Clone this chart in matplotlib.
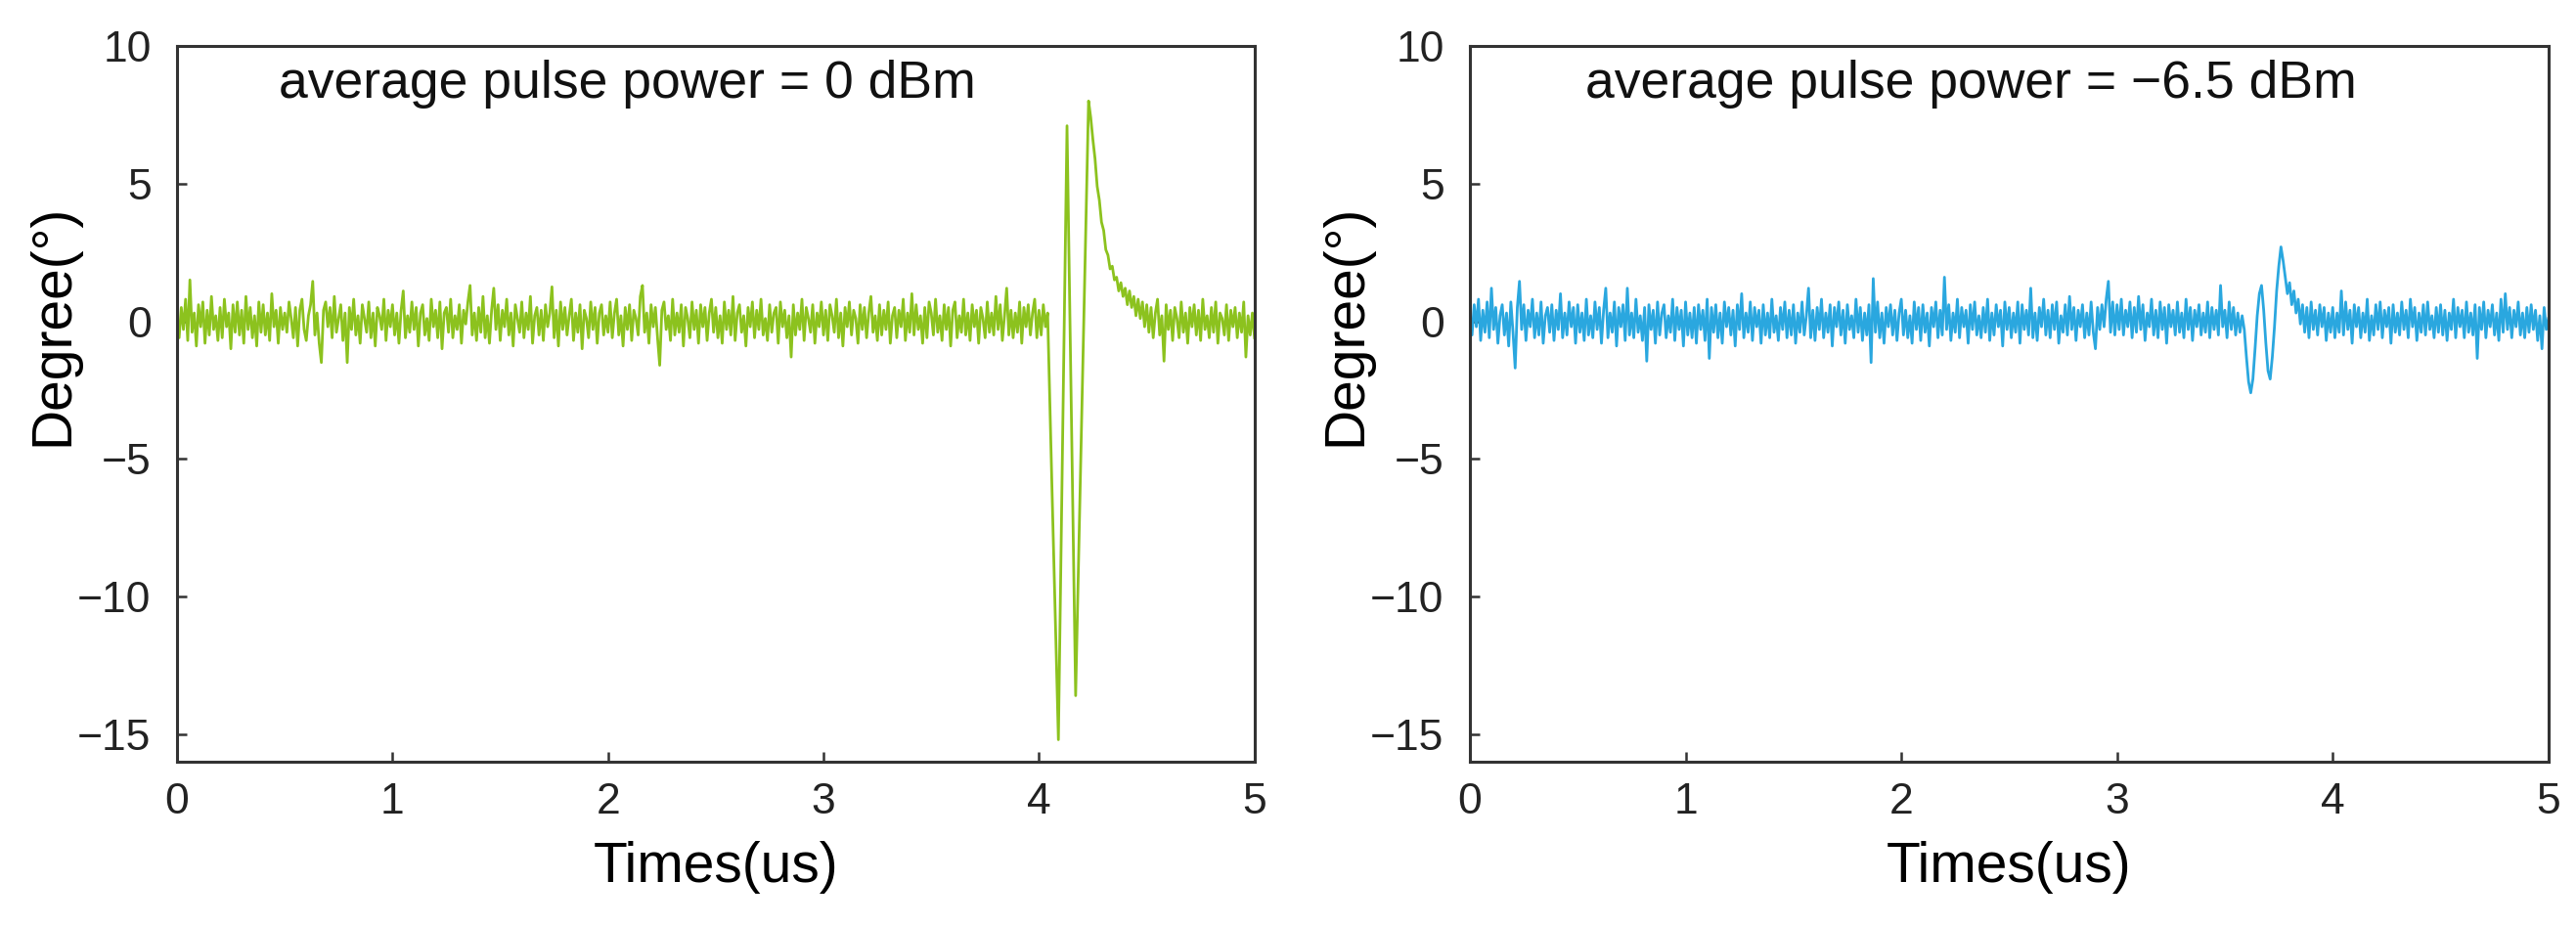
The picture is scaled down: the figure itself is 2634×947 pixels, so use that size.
import numpy as np
import matplotlib
matplotlib.use("Agg")
import matplotlib.pyplot as plt

plt.rcParams["font.family"] = ["Liberation Sans", "DejaVu Sans"]

# phase trace at 0 dBm, one value every 0.01 us from 0 to 5 us
phase_0dbm = [
    0.2, -0.6, 0.5, -0.3, 0.8, -0.7, 1.5, -0.4, 0.3, -0.9,
    0.6, -0.2, 0.7, -0.8, 0.4, -0.5, 0.9, -0.3, 0.2, -0.7,
    0.5, -0.6, 0.8, -0.2, 0.3, -1.0, 0.6, -0.4, 0.7, -0.5,
    0.4, -0.8, 0.9, -0.3, 0.5, -0.6, 0.2, -0.9, 0.7, -0.4,
    0.6, -0.5, 0.3, -0.7, 1.0, -0.2, 0.4, -0.8, 0.5, -0.3,
    0.3, -0.4, 0.7, 0.1, -0.6, 0.5, -0.9, 0.4, 0.8, -0.3,
    -0.7, 0.2, 0.6, 1.45, -0.5, 0.3, -0.8, -1.5, 0.4, 0.7,
    -0.2, 0.5, -0.6, 0.9, -0.4, 0.1, 0.6, -0.7, 0.3, -1.5,
    0.5, -0.3, 0.8, -0.5, 0.2, -0.8, 0.6, 0.1, -0.4, 0.7,
    -0.6, 0.3, -0.9, 0.5, 0.2, -0.3, 0.8, -0.7, 0.4, -0.2,
    0.6, -0.5, 0.3, -0.8, 0.4, 1.1, -0.6, 0.2, -0.4, 0.7,
    -0.3, 0.5, -0.9, 0.3, 0.6, -0.5, 0.1, -0.7, 0.8, -0.2,
    0.4, -0.6, 0.7, -1.0, 0.3, 0.5, -0.4, 0.8, -0.6, 0.2,
    -0.3, 0.6, -0.8, 0.4, -0.1, 0.7, 1.3, -0.5, 0.3, -0.7,
    0.5, -0.4, 0.9, -0.6, 0.2, -0.8, 0.4, 1.2, -0.3, 0.6,
    -0.7, 0.4, -0.2, 0.8, -0.5, 0.3, -0.9, 0.6, 0.1, -0.4,
    0.7, -0.6, 0.3, -0.3, 0.9, -0.8, 0.2, 0.5, -0.5, 0.4,
    -0.7, 0.6, -0.2, 0.3, 1.25, -0.6, 0.4, -0.9, 0.7, -0.3,
    0.5, -0.5, 0.2, 0.8, -0.7, 0.3, -0.4, 0.6, -1.0, 0.4,
    0.1, -0.6, 0.7, -0.3, 0.5, -0.8, 0.3, 0.6, -0.5, 0.2,
    -0.4, 0.7, -0.6, 0.3, 0.8, -0.5, 0.2, -0.9, 0.5, -0.3,
    0.6, -0.7, 0.4, 0.1, -0.5, 0.9, 1.3, -0.4, 0.3, -0.8,
    0.6, -0.2, 0.5, -0.6, -1.6, 0.4, 0.7, -0.3, 0.2, -0.7,
    0.8, -0.5, 0.3, -0.4, 0.6, -0.9, 0.5, 0.1, -0.6, 0.7,
    -0.3, 0.4, -0.8, 0.6, -0.2, 0.5, -0.7, 0.3, 0.8, -0.4,
    0.5, -0.6, 0.2, -0.8, 0.7, -0.3, 0.4, -0.5, 0.9, -0.7,
    0.3, 0.6, -0.4, 0.2, -0.9, 0.5, -0.2, 0.7, -0.6, 0.4,
    -0.3, 0.8, -0.5, 0.1, -0.7, 0.6, -0.4, 0.3, 0.5, -0.8,
    0.7, -0.2, 0.4, -0.6, 0.2, -1.3, 0.6, -0.5, 0.3, -0.3,
    0.8, -0.7, 0.5, 0.1, -0.4, 0.6, -0.8, 0.3, -0.2, 0.7,
    -0.5, 0.4, -0.7, 0.6, 0.2, -0.4, 0.8, -0.6, 0.3, -0.9,
    0.5, -0.2, 0.7, -0.5, 0.4, 0.1, -0.8, 0.6, -0.3, 0.5,
    -0.6, 0.3, 0.9, -0.4, 0.2, -0.7, 0.6, -0.5, 0.4, -0.3,
    0.7, -0.8, 0.2, 0.5, -0.6, 0.4, -0.2, 0.8, -0.7, 0.3,
    -0.4, 1.0, -0.5, 0.6, -0.3, 0.2, -0.8, 0.5, -0.6, 0.7,
    0.3, -0.5, 0.8, -0.4, 0.2, -0.7, 0.6, -0.3, 0.5, -0.9,
    0.4, 0.7, -0.6, 0.2, -0.4, 0.8, -0.5, 0.3, -0.7, 0.6,
    -0.2, 0.4, -0.8, 0.5, 0.1, -0.6, 0.7, -0.4, 0.3, -0.5,
    0.9, -0.3, 0.6, -0.7, 0.2, 1.2, -0.5, 0.4, -0.6, 0.3,
    -0.4, 0.7, -0.8, 0.5, -0.2, 0.6, -0.5, 0.3, 0.8, -0.6,
    0.4, -0.5, 0.6, -0.2, 0.3, -2.9, -6.0, -9.0, -12.1, -15.2,
    -9.6, -4.0, 1.5, 7.1, 1.9, -3.3, -8.4, -13.6, -10.0, -6.4,
    -2.8, 0.8, 4.4, 8.0, 7.4, 6.6, 5.9, 4.9, 4.4, 3.6,
    3.3, 2.6, 2.4, 1.9, 2.0, 1.5, 1.6, 1.1, 1.4, 0.9,
    1.2, 0.6, 1.1, 0.5, 0.9, 0.2, 0.8, 0.1, 0.7, -0.2,
    0.6, -0.4, 0.5, -0.6, 0.3, 0.8, -0.5, 0.2, -1.45, 0.6,
    -0.3, 0.4, -0.7, 0.5, 0.1, -0.6, 0.7, -0.4, 0.3, -0.8,
    0.5, -0.2, 0.6, -0.5, 0.4, -0.7, 0.8, -0.3, 0.2, -0.6,
    0.5, -0.4, 0.7, -0.8, 0.3, 0.1, -0.5, 0.6, -0.7, 0.4,
    -0.2, 0.5, -0.6, 0.3, -0.4, 0.7, -1.3, 0.2, -0.5, 0.3,
    -0.6,
]

# phase trace at -6.5 dBm, same time grid
phase_m6dbm = [
    0.3, -0.5, 0.6, -0.2, 0.8, -0.7, 0.4, -0.4, 0.7, -0.6,
    1.2, -0.3, 0.5, -0.8, 0.2, 0.6, -0.5, 0.3, -0.9, 0.7,
    -0.4, -1.7, 0.5, 1.45, -0.3, 0.6, -0.7, 0.4, -0.2, 0.8,
    -0.6, 0.3, -0.5, 0.7, -0.8, 0.2, 0.5, -0.4, 0.6, -0.7,
    0.4, -0.3, 1.0, -0.6, 0.3, -0.5, 0.7, -0.2, 0.5, -0.8,
    0.6, -0.4, 0.3, -0.7, 0.8, -0.5, 0.2, -0.6, 0.7, -0.3,
    0.5, -0.8, 0.4, 1.2, -0.6, 0.3, -0.4, 0.7, -0.9, 0.5,
    -0.2, 0.6, -0.7, 1.2, -0.5, 0.3, -0.6, 0.8, -0.4, 0.2,
    -0.7, 0.5, -1.45, 0.6, -0.3, 0.4, -0.8, 0.7, -0.5, 0.3,
    0.6, -0.6, 0.2, -0.4, 0.8, -0.7, 0.5, -0.3, 0.4, -0.9,
    0.7, -0.5, 0.3, -0.6, 0.5, -0.8, 0.6, -0.3, 0.4, -0.7,
    0.8, -1.35, 0.5, -0.4, 0.6, -0.6, 0.3, -0.8, 0.7, -0.2,
    0.5, -0.5, 0.4, -0.9, 0.6, -0.3, 1.0, -0.6, 0.3, -0.4,
    0.7, -0.7, 0.5, -0.2, 0.4, -0.8, 0.6, -0.5, 0.3, -0.6,
    0.8, -0.4, 0.2, -0.7, 0.5, -0.3, 0.7, -0.6, 0.4, -0.5,
    0.6, -0.8, 0.3, -0.4, 0.7, -0.5, 0.2, 1.2, -0.6, 0.4,
    -0.7, 0.5, -0.3, 0.8, -0.6, 0.3, -0.4, 0.6, -0.9, 0.5,
    -0.2, 0.7, -0.5, 0.4, -0.8, 0.6, -0.3, 0.2, -0.6, 0.8,
    -0.4, 0.5, -0.7, 0.3, -0.5, 0.6, -1.5, 1.55, -0.4, 0.7,
    -0.6, 0.3, -0.8, 0.5, -0.2, 0.6, -0.5, 0.4, -0.7, 0.3,
    0.8, -0.5, 0.4, -0.6, 0.2, -0.8, 0.7, -0.3, 0.5, -0.7,
    0.6, -0.4, 0.3, -0.9, 0.5, -0.2, 0.7, -0.6, 0.4, -0.5,
    1.6, -0.3, 0.6, -0.7, 0.3, -0.4, 0.8, -0.6, 0.5, -0.2,
    0.4, -0.8, 0.6, -0.3, 0.7, -0.5, 0.2, -0.6, 0.5, -0.4,
    0.8, -0.7, 0.3, -0.5, 0.6, -0.2, 0.4, -0.9, 0.7, -0.3,
    0.5, -0.6, 0.3, -0.4, 0.7, -0.8, 0.6, -0.3, 0.4, -0.5,
    1.2, -0.6, 0.3, -0.7, 0.5, -0.2, 0.8, -0.5, 0.4, -0.6,
    0.6, -0.3, 0.7, -0.8, 0.2, -0.4, 0.6, -0.5, 0.9, -0.3,
    0.5, -0.7, 0.4, -0.2, 0.6, -0.6, 0.3, -0.5, 0.7, -0.4,
    -1.0, 0.5, -0.3, 0.6, -0.2, 0.8, 1.45, -0.4, 0.7, -0.5,
    0.6, -0.3, 0.8, -0.5, 0.4, -0.2, 0.7, -0.6, 0.5, -0.4,
    0.9, -0.3, 0.6, -0.7, 0.3, -0.2, 0.8, -0.5, 0.4, -0.6,
    0.7, -0.3, 0.5, -0.8, 0.6, -0.2, 0.4, -0.5, 0.7, -0.4,
    0.3, -0.6, 0.8, -0.3, 0.5, -0.7, 0.4, -0.2, 0.6, -0.5,
    0.3, -0.4, 0.7, -0.6, 0.5, -0.3, 0.4, -0.5, 1.3, -0.2,
    0.4, -0.6, 0.7, -0.3, 0.5, -0.5, 0.3, -0.4, 0.2, -0.3,
    -1.3, -2.2, -2.6, -2.1, -1.0, 0.2, 1.0, 1.3, 0.4, -0.8,
    -1.8, -2.1, -1.3, -0.2, 1.1, 2.0, 2.7, 2.2, 1.6, 1.0,
    1.4, 0.6, 1.1, 0.3, 0.8, -0.1, 0.6, -0.4, 0.5, -0.6,
    0.7, -0.3, 0.4, -0.5, 0.6, -0.2, 0.5, -0.7, 0.3, -0.4,
    0.5, -0.6, 0.3, -0.4, 1.1, -0.5, 0.7, -0.3, 0.4, -0.8,
    0.6, -0.2, 0.5, -0.6, 0.3, -0.4, 0.8, -0.7, 0.2, -0.5,
    0.6, -0.3, 0.7, -0.6, 0.4, -0.2, 0.5, -0.8, 0.6, -0.4,
    0.3, -0.5, 0.7, -0.3, 0.4, -0.6, 0.8, -0.2, 0.5, -0.7,
    0.3, -0.4, 0.6, -0.5, 0.7, -0.3, 0.2, -0.6, 0.5, -0.4,
    0.6, -0.5, 0.4, -0.7, 0.3, -0.3, 0.8, -0.6, 0.5, -0.2,
    0.4, -0.6, 0.7, -0.4, 0.3, -0.5, 0.6, -1.35, 0.5, -0.3,
    0.7, -0.6, 0.4, -0.2, 0.6, -0.5, 0.3, -0.7, 0.8, -0.4,
    1.0, -0.3, 0.5, -0.6, 0.4, -0.2, 0.7, -0.5, 0.3, -0.6,
    0.5, -0.4, 0.6, -0.3, 0.4, -0.7, 0.2, -1.0, 0.5, -0.3,
    0.1,
]

time_us = np.linspace(0, 5, len(phase_0dbm))

panels = [
    (phase_0dbm, "#8cc21e", "average pulse power = 0 dBm", 0.47, [0.0687, 0.1774, 0.4183, 0.773]),
    (phase_m6dbm, "#2aa7df", "average pulse power = \u22126.5 dBm", 0.535, [0.5706, 0.1774, 0.4187, 0.773]),
]

fig = plt.figure(figsize=(26.34, 9.47), dpi=100)

for values, color, note, note_x, rect in panels:
    ax = fig.add_axes(rect)
    ax.plot(time_us, values, color=color, lw=2.0)
    ax.set_xlim(0, 5)
    ax.set_ylim(-16, 10)
    ax.set_xticks([0, 1, 2, 3, 4, 5])
    ax.set_yticks([-15, -10, -5, 0, 5, 10])
    ax.tick_params(direction="in", length=7, width=1.8, labelsize=32,
                   color="#333333", labelcolor="#222222")
    ax.tick_params(axis="x", pad=15)
    ax.tick_params(axis="y", pad=19)
    for sp in ax.spines.values():
        sp.set_linewidth(2.2)
        sp.set_color("#333333")
    ax.set_xlabel("Times(us)", fontsize=41)
    ax.set_ylabel("Degree(\u00b0)", fontsize=41)
    ax.xaxis.set_label_coords(0.5, -0.11)
    ax.yaxis.set_label_coords(-0.09, 0.61)
    ax.text(note_x, 8.1, note, fontsize=38.5, va="baseline", ha="left", color="#111111")

fig.savefig("out.png", dpi=100)
